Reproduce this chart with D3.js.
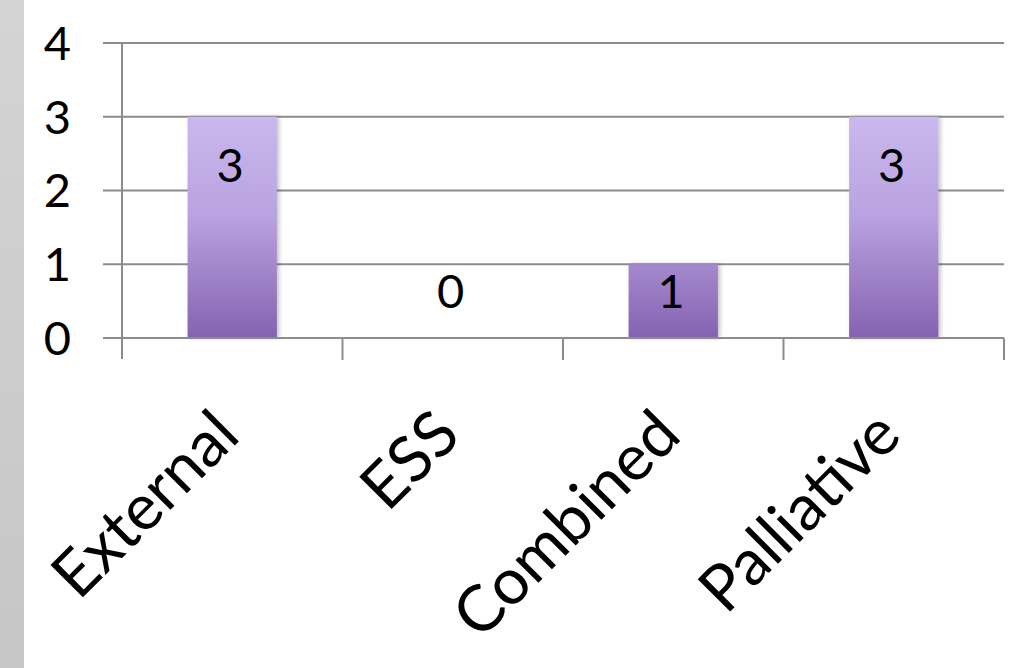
<!DOCTYPE html>
<html><head><meta charset="utf-8">
<script src="https://cdn.jsdelivr.net/npm/d3@7"></script>
<style>html,body{margin:0;padding:0;background:#fff;overflow:hidden}</style>
</head><body>
<svg id="chart" width="1020" height="668"></svg>
<script>
const categories = ["External", "ESS", "Combined", "Palliative"];
const values = [3, 0, 1, 3];
const yTicks = [0, 1, 2, 3, 4];

const svg = d3.select("#chart");
const W = 1020, H = 668;
const plot = {left: 122, right: 1004, top: 43, bottom: 338};
const font = "Lato, 'Open Sans', sans-serif";

const defs = svg.append("defs");
const sg = defs.append("linearGradient").attr("id","strip").attr("x1",0).attr("y1",0).attr("x2",0).attr("y2",1);
sg.append("stop").attr("offset","0%").attr("stop-color","#d4d4d4");
sg.append("stop").attr("offset","100%").attr("stop-color","#c6c6c6");
const bg = defs.append("linearGradient").attr("id","barGrad").attr("gradientUnits","userSpaceOnUse")
  .attr("x1",0).attr("y1",plot.top + (plot.bottom-plot.top)/4).attr("x2",0).attr("y2",plot.bottom);
bg.append("stop").attr("offset","0%").attr("stop-color","#cab8ed");
bg.append("stop").attr("offset","45%").attr("stop-color","#b9a2e0");
bg.append("stop").attr("offset","100%").attr("stop-color","#8462b0");
const f = defs.append("filter").attr("id","shadow").attr("x","-20%").attr("y","-5%").attr("width","140%").attr("height","110%");
f.append("feDropShadow").attr("dx",2).attr("dy",0).attr("stdDeviation",2).attr("flood-color","#000").attr("flood-opacity",0.25);

svg.append("rect").attr("x",0).attr("y",0).attr("width",24).attr("height",H).attr("fill","url(#strip)");

const x = d3.scaleBand().domain(categories).range([plot.left, plot.right]).padding(0);
const y = d3.scaleLinear().domain([0, 4]).range([plot.bottom, plot.top]);

const gridColor = "#8c8c8c";
svg.append("g").selectAll("line").data(yTicks).join("line")
  .attr("x1", plot.left - 19).attr("x2", plot.right)
  .attr("y1", d => y(d)).attr("y2", d => y(d))
  .attr("stroke", gridColor).attr("stroke-width", 2);

const bw = x.bandwidth() * 0.405;
svg.append("g").selectAll("rect").data(values.map((v,i)=>({v, c:categories[i]}))).join("rect")
  .filter(d => d.v > 0)
  .attr("x", d => x(d.c) + x.bandwidth()/2 - bw/2)
  .attr("y", d => y(d.v))
  .attr("width", bw)
  .attr("height", d => y(0) - y(d.v))
  .attr("fill", "url(#barGrad)")
  .attr("filter", "url(#shadow)");

svg.append("line").attr("x1", plot.left).attr("x2", plot.right).attr("y1", y(0)).attr("y2", y(0))
  .attr("stroke", gridColor).attr("stroke-width", 2);
svg.append("line").attr("x1", plot.left).attr("x2", plot.left).attr("y1", plot.top - 1).attr("y2", plot.bottom + 21)
  .attr("stroke", gridColor).attr("stroke-width", 2);
const bounds = categories.map(c => x(c)).concat([plot.right]);
svg.append("g").selectAll("line").data(bounds.slice(1)).join("line")
  .attr("x1", d => d).attr("x2", d => d).attr("y1", y(0)).attr("y2", y(0) + 22)
  .attr("stroke", gridColor).attr("stroke-width", 2);

svg.append("g").selectAll("text").data(yTicks).join("text")
  .attr("x", 71).attr("y", d => y(d)).attr("dy", "0.36em")
  .attr("text-anchor", "end").attr("font-family", font).attr("font-size", 47).attr("fill", "#000")
  .text(d => d);

svg.append("g").selectAll("text").data(values.map((v,i)=>({v, c:categories[i]}))).join("text")
  .attr("x", d => x(d.c) + x.bandwidth()/2 - 2)
  .attr("y", d => Math.min(y(d.v) + 48, y(0) - 47))
  .attr("dy", "0.36em")
  .attr("text-anchor", "middle").attr("font-family", font).attr("font-size", 47).attr("fill", "#000")
  .text(d => d.v);

svg.append("g").selectAll("text").data(categories).join("text")
  .attr("transform", d => `translate(${x(d) + x.bandwidth()/2 + 10},${y(0) + 100}) rotate(-45)`)
  .attr("text-anchor", "end").attr("font-family", font).attr("font-size", 64).attr("fill", "#000")
  .text(d => d);
</script>
</body></html>
